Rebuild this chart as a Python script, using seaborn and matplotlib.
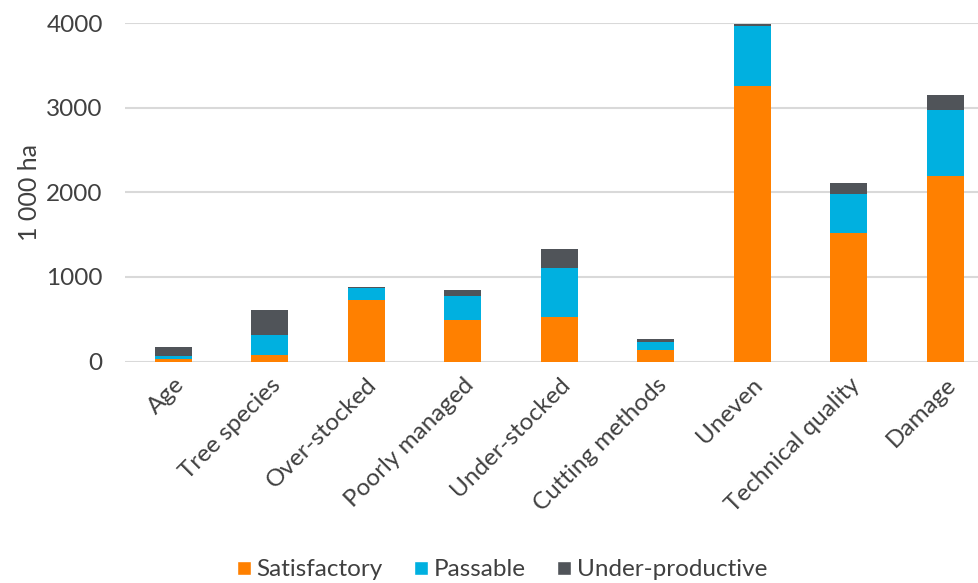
import numpy as np
import pandas as pd
import matplotlib
matplotlib.use("Agg")
import matplotlib.pyplot as plt
import seaborn as sns
from matplotlib.patches import Patch

# values (1 000 ha)
categories = ["Age", "Tree species", "Over-stocked", "Poorly managed", "Under-stocked",
              "Cutting methods", "Uneven", "Technical quality", "Damage"]
satisfactory = [30, 80, 725, 490, 525, 140, 3260, 1515, 2195]
passable = [35, 230, 140, 285, 580, 85, 700, 470, 780]
under_productive = [110, 300, 20, 75, 230, 45, 25, 125, 180]

series_names = ["Satisfactory", "Passable", "Under-productive"]
colors = ["#FF8000", "#00B0E0", "#505459"]

df = pd.DataFrame({
    "category": categories,
    "sat": satisfactory,
    "pas": passable,
    "und": under_productive,
})
df["lvl1"] = df["sat"]
df["lvl2"] = df["sat"] + df["pas"]
df["lvl3"] = df["lvl2"] + df["und"]

sns.set_style("white")
plt.rcParams["font.family"] = ["Lato", "DejaVu Sans"]
text_col = "#404040"
fs = 17.5

fig = plt.figure(figsize=(9.79, 5.83), dpi=100)
ax = fig.add_axes([125 / 979, 1 - 361.5 / 583, 868.5 / 979, 338.5 / 583])

# stacked bars drawn as cumulative layers, tallest first
for col, c in zip(["lvl3", "lvl2", "lvl1"], colors[::-1]):
    sns.barplot(data=df, x="category", y=col, color=c, width=0.385,
                saturation=1, linewidth=0, edgecolor="none", ax=ax, zorder=3)

ax.set_ylim(0, 4000)
ax.set_xlim(-0.5, len(categories) - 0.5)
ax.set_yticks([0, 1000, 2000, 3000, 4000])
ax.yaxis.grid(True, color="#d9d9d9", linewidth=1.5, zorder=0)
ax.set_axisbelow(True)
for s in ax.spines.values():
    s.set_visible(False)
ax.tick_params(axis="both", length=0, labelsize=fs, colors=text_col)
ax.tick_params(axis="y", pad=16)
ax.set_xticks(range(len(categories)))
ax.set_xticklabels(categories, rotation=45, ha="right", rotation_mode="anchor")
ax.tick_params(axis="x", pad=9)
ax.set_xlabel("")
ax.set_ylabel("1 000 ha", fontsize=18, color=text_col, labelpad=4)

handles = [Patch(facecolor=c, label=n) for c, n in zip(colors, series_names)]
fig.legend(handles=handles, loc="center", bbox_to_anchor=(0.513, 1 - 570 / 583), ncol=3,
           frameon=False, fontsize=fs, handlelength=0.55, handleheight=0.55,
           handletextpad=0.25, columnspacing=1.3, labelcolor=text_col,
           bbox_transform=fig.transFigure)

fig.savefig("out.png", dpi=100)
